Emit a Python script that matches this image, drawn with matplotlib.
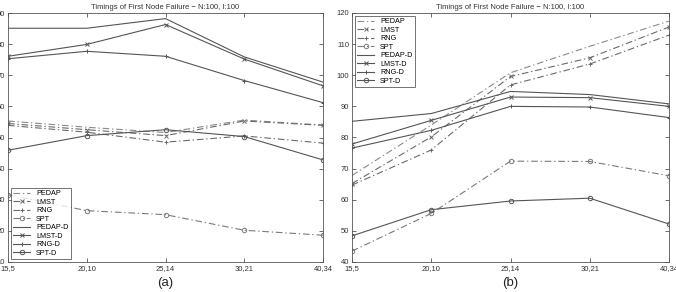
import numpy as np
import matplotlib
matplotlib.use("Agg")
import matplotlib.pyplot as plt

plt.rcParams["font.family"] = ["Liberation Sans", "DejaVu Sans"]

x_labels = ["15,5", "20,10", "25,14", "30,21", "40,34"]
series_names = ["PEDAP", "LMST", "RNG", "SPT", "PEDAP-D", "LMST-D", "RNG-D", "SPT-D"]

# panel (a)
a_pedap = [55.3, 53.3, 51.6, 55.6, 54.0]
a_lmst = [54.5, 52.5, 50.6, 55.3, 53.9]
a_rng = [53.9, 51.7, 48.5, 50.5, 48.2]
a_spt = [31.6, 26.5, 25.2, 20.2, 18.6]
a_pedap_d = [85.1, 85.1, 88.2, 75.9, 67.8]
a_lmst_d = [76.1, 79.9, 86.3, 75.2, 66.6]
a_rng_d = [75.3, 77.7, 76.1, 68.3, 61.2]
a_spt_d = [45.9, 50.6, 52.5, 50.3, 42.8]

# panel (b)
b_pedap = [67.8, 84.0, 100.8, 109.3, 117.4]
b_lmst = [65.2, 80.2, 99.6, 105.6, 115.5]
b_rng = [64.7, 76.0, 96.9, 103.6, 112.9]
b_spt = [43.5, 55.6, 72.4, 72.3, 67.7]
b_pedap_d = [85.2, 87.7, 94.8, 93.8, 90.8]
b_lmst_d = [77.9, 85.5, 93.0, 92.8, 90.0]
b_rng_d = [76.6, 82.3, 90.0, 89.8, 86.4]
b_spt_d = [48.4, 56.8, 59.6, 60.5, 52.2]

panel_a = [a_pedap, a_lmst, a_rng, a_spt, a_pedap_d, a_lmst_d, a_rng_d, a_spt_d]
panel_b = [b_pedap, b_lmst, b_rng, b_spt, b_pedap_d, b_lmst_d, b_rng_d, b_spt_d]

dashdot = (0, (6, 2.5, 1.2, 2.5))
styles = [
    dict(ls=dashdot, marker=None, color="#8a8a8a"),
    dict(ls=dashdot, marker="x", color="#6a6a6a"),
    dict(ls=dashdot, marker="+", color="#6a6a6a"),
    dict(ls=dashdot, marker="o", color="#7a7a7a"),
    dict(ls="-", marker=None, color="#555555"),
    dict(ls="-", marker="x", color="#555555"),
    dict(ls="-", marker="+", color="#555555"),
    dict(ls="-", marker="o", color="#555555"),
]

fig = plt.figure(figsize=(6.76, 2.92), dpi=100)
ax_a = fig.add_axes([8 / 676, 30 / 292, 315 / 676, 249 / 292])
ax_b = fig.add_axes([352 / 676, 30 / 292, 317 / 676, 249 / 292])

xs = np.arange(len(x_labels))


def draw(ax, data, ylim, yticks, sub, legend_loc):
    for name, vals, st in zip(series_names, data, styles):
        ax.plot(xs, vals, linestyle=st["ls"], marker=st["marker"], color=st["color"],
                lw=0.8, ms=3.2, mew=0.7, mfc="none", label=name)
    ax.set_xlim(0, len(x_labels) - 1)
    ax.set_ylim(*ylim)
    ax.set_xticks(xs)
    ax.set_xticklabels(x_labels)
    ax.set_yticks(yticks)
    ax.tick_params(direction="in", top=True, right=True, labelsize=5.5,
                   length=3, width=0.5, pad=2, colors="#333333")
    for sp in ax.spines.values():
        sp.set_color("#555555")
        sp.set_linewidth(0.6)
    ax.set_title("Timings of First Node Failure \u2212 N:100, I:100", fontsize=5.5,
                 pad=3, color="#333333")
    ax.set_xlabel(sub, fontsize=9.5, labelpad=4, color="#222222")
    leg = ax.legend(loc=legend_loc, fontsize=5.2, frameon=True, fancybox=False,
                    handlelength=2.4, labelspacing=0.2, borderpad=0.3,
                    handletextpad=0.8, borderaxespad=0.4)
    leg.get_frame().set_edgecolor("#333333")
    leg.get_frame().set_linewidth(0.6)


draw(ax_a, panel_a, (10, 90), np.arange(10, 91, 10), "(a)", "lower left")
draw(ax_b, panel_b, (40, 120), np.arange(40, 121, 10), "(b)", "upper left")

fig.savefig("out.png", dpi=100)
